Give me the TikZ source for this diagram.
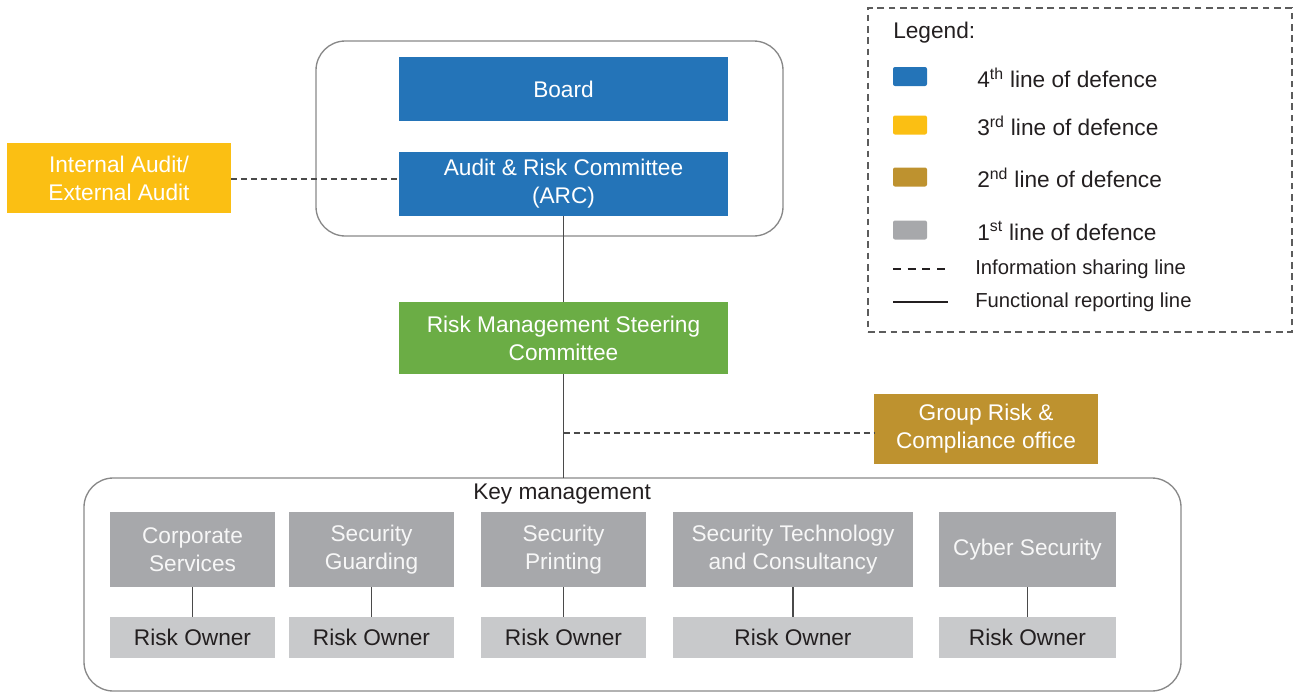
\documentclass[tikz,border=0pt]{standalone}
\usepackage{fontspec}
\setmainfont{Liberation Sans}
\definecolor{cblue}{HTML}{2474B8}
\definecolor{cyellow}{HTML}{FBBF13}
\definecolor{cgreen}{HTML}{6BAD45}
\definecolor{cgold}{HTML}{BE922F}
\definecolor{cgray}{HTML}{A7A8AB}
\definecolor{clight}{HTML}{C8C9CB}
\definecolor{ctext}{HTML}{231F20}
\definecolor{cline}{HTML}{4A4A4A}
\definecolor{cframe}{HTML}{888888}
\begin{document}
\begin{tikzpicture}[x=0.75pt,y=-0.75pt,
  box/.style={inner sep=0pt,outer sep=0pt,align=center,text=white,
    font=\fontsize{17}{21}\selectfont},
  graybox/.style={box,fill=cgray,text=white!94!gray},
  ownerbox/.style={box,fill=clight,text=ctext},
  frame/.style={draw=cframe,line width=1pt,rounded corners=22pt,inner sep=0pt,outer sep=0pt},
  conn/.style={draw=cline,line width=1pt},
  dconn/.style={conn,dash pattern=on 4.5pt off 3pt},
  swatch/.style={inner sep=0pt,outer sep=0pt,rounded corners=1.5pt,minimum width=34*0.75pt,minimum height=19*0.75pt},
  legtext/.style={anchor=west,inner sep=0pt,text=ctext,font=\fontsize{17}{20}\selectfont},
  legsmall/.style={anchor=west,inner sep=0pt,text=ctext,font=\fontsize{15.2}{18}\selectfont}]
\useasboundingbox (0,0) rectangle (1293,693);
% frames
\node[frame,minimum width=467*0.75pt,minimum height=195*0.75pt] (topframe) at (549.5,138.5) {};
\node[frame,minimum width=1097*0.75pt,minimum height=213*0.75pt] (kmframe) at (632.5,584.5) {};
% top boxes
\node[box,fill=cblue,minimum width=329*0.75pt,minimum height=64*0.75pt] (board) at (563.5,89) {Board};
\node[box,fill=cblue,minimum width=329*0.75pt,minimum height=64*0.75pt] (arc) at (563.5,184) {Audit \& Risk Committee\\(ARC)};
\node[box,fill=cyellow,minimum width=224*0.75pt,minimum height=70*0.75pt] (ia) at (119,178) {Internal Audit/\\External Audit};
\node[box,fill=cgreen,minimum width=329*0.75pt,minimum height=72*0.75pt] (rmsc) at (563.5,338) {Risk Management Steering\\Committee};
\node[box,fill=cgold,minimum width=224*0.75pt,minimum height=70*0.75pt] (grc) at (986,429) {Group Risk \&\\Compliance office};
% key management
\node[anchor=west,inner sep=0pt,text=ctext,font=\fontsize{17}{20}\selectfont] (kmlabel) at (473,494) {Key management};
\node[graybox,minimum width=165*0.75pt,minimum height=75*0.75pt] (cs) at (192.5,549.5) {Corporate\\Services};
\node[graybox,minimum width=165*0.75pt,minimum height=75*0.75pt] (sg) at (371.5,549.5) {Security\\Guarding};
\node[graybox,minimum width=165*0.75pt,minimum height=75*0.75pt] (sp) at (563.5,549.5) {Security\\Printing};
\node[graybox,minimum width=240*0.75pt,minimum height=75*0.75pt] (stc) at (793,549.5) {Security Technology\\and Consultancy};
\node[graybox,minimum width=177*0.75pt,minimum height=75*0.75pt] (cyb) at (1027.5,549.5) {Cyber Security};
\node[ownerbox,minimum width=165*0.75pt,minimum height=41*0.75pt] (ro1) at (192.5,637.5) {Risk Owner};
\node[ownerbox,minimum width=165*0.75pt,minimum height=41*0.75pt] (ro2) at (371.5,637.5) {Risk Owner};
\node[ownerbox,minimum width=165*0.75pt,minimum height=41*0.75pt] (ro3) at (563.5,637.5) {Risk Owner};
\node[ownerbox,minimum width=240*0.75pt,minimum height=41*0.75pt] (ro4) at (793,637.5) {Risk Owner};
\node[ownerbox,minimum width=177*0.75pt,minimum height=41*0.75pt] (ro5) at (1027.5,637.5) {Risk Owner};
% connectors
\draw[dconn] (ia.east |- 0,179) -- (arc.west |- 0,179);
\draw[conn] (arc.south) -- (rmsc.north);
\draw[conn] (rmsc.south) -- (kmframe.north -| rmsc.south);
\coordinate (grcjoin) at (563.5,433);
\draw[dconn] (grcjoin) -- (grc.west |- grcjoin);
\draw[conn] (cs) -- (ro1);
\draw[conn] (sg) -- (ro2);
\draw[conn] (sp) -- (ro3);
\draw[conn] (stc) -- (ro4);
\draw[conn] (cyb) -- (ro5);
% legend
\node[draw=cline!90,line width=0.9pt,dash pattern=on 5pt off 3.5pt,inner sep=0pt,minimum width=424*0.75pt,minimum height=324*0.75pt] (legend) at (1080,170) {};
\node[legtext] (legtitle) at (893,33) {Legend:};
\node[swatch,fill=cblue] (sw4) at (910,76.5) {};
\node[swatch,fill=cyellow] (sw3) at (910,125) {};
\node[swatch,fill=cgold] (sw2) at (910,177) {};
\node[swatch,fill=cgray] (sw1) at (910,230) {};
\node[legtext] (lt4) at (977,78) {4\textsuperscript{th} line of defence};
\node[legtext] (lt3) at (977,126) {3\textsuperscript{rd} line of defence};
\node[legtext] (lt2) at (977,178) {2\textsuperscript{nd} line of defence};
\node[legtext] (lt1) at (977,231) {1\textsuperscript{st} line of defence};
\coordinate (ld1) at (893,269);
\coordinate (ld2) at (948,269);
\draw[draw=ctext,line width=1.5pt,dash pattern=on 6pt off 5pt] (ld1) -- (ld2);
\node[legsmall] (ltinfo) at (975,269) {Information sharing line};
\coordinate (ls1) at (893,302);
\coordinate (ls2) at (948,302);
\draw[draw=ctext,line width=0.9pt] (ls1) -- (ls2);
\node[legsmall] (ltfunc) at (975,302) {Functional reporting line};
\end{tikzpicture}
\end{document}
